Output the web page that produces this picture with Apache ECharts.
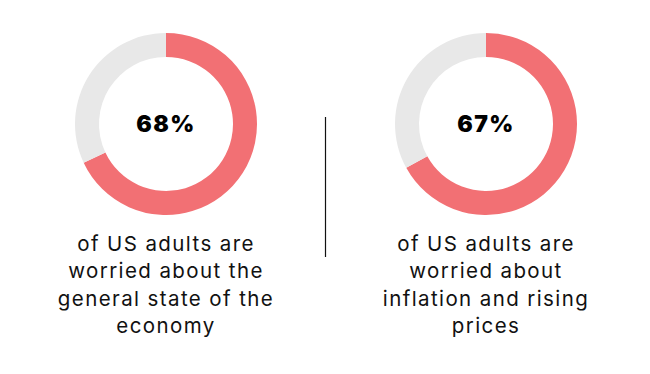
<!DOCTYPE html>
<html><head><meta charset="utf-8">
<script src="https://cdn.jsdelivr.net/npm/echarts@6/dist/echarts.min.js"></script>
<style>html,body{margin:0;padding:0;background:#fff}#c{width:650px;height:374px}
#c svg text{letter-spacing:1.4px}</style>
</head><body><div id="c"></div>
<script>
const values = [68, 67];
const centerLabels = ['68%', '67%'];
const captions = [
  ['of US adults are', 'worried about the', 'general state of the', 'economy'],
  ['of US adults are', 'worried about', 'inflation and rising', 'prices']
];
const centersX = [166, 486];
const RED = '#F27074', GREY = '#E8E8E8';
const chart = echarts.init(document.getElementById('c'), null, { renderer: 'svg' });
const series = values.map((v, i) => ({
  type: 'pie', radius: [67, 91], center: [centersX[i], 124],
  startAngle: 90, clockwise: true, silent: true,
  label: { show: false }, labelLine: { show: false },
  data: [
    { value: v, itemStyle: { color: RED } },
    { value: 100 - v, itemStyle: { color: GREY } }
  ]
}));
const graphic = [];
values.forEach((v, i) => {
  graphic.push({ type: 'text', x: centersX[i], y: 124, style: {
    text: centerLabels[i], x: 0, y: 0, align: 'center', verticalAlign: 'middle',
    font: '900 23px Inter', fill: '#000' } });
  captions[i].forEach((line, j) => {
    graphic.push({ type: 'text', x: centersX[i], y: 243 + j * 27.5, style: {
      text: line, align: 'center', verticalAlign: 'middle',
      font: '400 20.5px Inter', fill: '#111' } });
  });
});
graphic.push({ type: 'line', shape: { x1: 325.5, y1: 117, x2: 325.5, y2: 257 }, style: { stroke: '#111', lineWidth: 1.2 } });
chart.setOption({ animation: false, series, graphic });
</script></body></html>
